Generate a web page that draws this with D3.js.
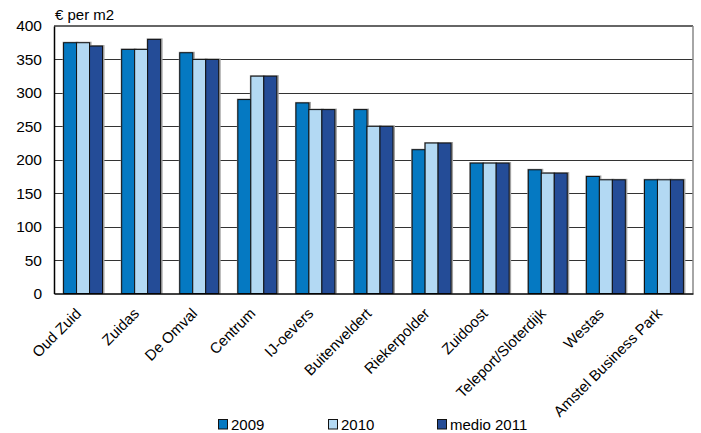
<!DOCTYPE html>
<html>
<head>
<meta charset="utf-8">
<script src="https://cdn.jsdelivr.net/npm/d3@7"></script>
<style>
body { margin: 0; background: #fff; }
text { font-family: "Liberation Sans", Arial, sans-serif; fill: #000; }
</style>
</head>
<body>
<div id="container"></div>
<script>
var categories = ["Oud Zuid", "Zuidas", "De Omval", "Centrum", "IJ-oevers", "Buitenveldert",
	"Riekerpolder", "Zuidoost", "Teleport/Sloterdijk", "Westas", "Amstel Business Park"];
var seriesNames = ["2009", "2010", "medio 2011"];
var v2009 = [375, 365, 360, 290, 285, 275, 215, 195, 185, 175, 170];
var v2010 = [375, 365, 350, 325, 275, 250, 225, 195, 180, 170, 170];
var v2011 = [370, 380, 350, 325, 275, 250, 225, 195, 180, 170, 170];
var yTicks = [0, 50, 100, 150, 200, 250, 300, 350, 400];
var colors = ["#0579c2", "#b3d9f3", "#244c97"];

var w = 701, h = 433,
	plotLeft = 54, plotRight = 693, plotTop = 26, plotBottom = 293.5;

var svg = d3.select("#container").append("svg")
	.attr("width", w)
	.attr("height", h);

var x = d3.scaleBand().domain(categories).range([plotLeft, plotRight]).paddingInner(0.33).paddingOuter(0.165);
var x1 = d3.scaleBand().domain(seriesNames).range([0, x.bandwidth()]);
var y = d3.scaleLinear().domain([0, 400]).range([plotBottom, plotTop]);

// gridlines
svg.append("g").selectAll("line")
	.data(yTicks.filter(function(d) { return d > 0 && d < 400; }))
	.enter().append("line")
	.attr("x1", plotLeft).attr("x2", plotRight)
	.attr("y1", function(d) { return Math.round(y(d)) + 0.5; })
	.attr("y2", function(d) { return Math.round(y(d)) + 0.5; })
	.attr("stroke", "#333").attr("stroke-width", 1);

// frame: top dark, right gray
svg.append("line").attr("x1", plotLeft).attr("x2", plotRight).attr("y1", y(400)).attr("y2", y(400))
	.attr("stroke", "#333").attr("stroke-width", 1.5);
svg.append("line").attr("x1", plotRight).attr("x2", plotRight).attr("y1", y(400)).attr("y2", y(0))
	.attr("stroke", "#888").attr("stroke-width", 1.5);

var data = [];
categories.forEach(function(c, i) {
	[v2009, v2010, v2011].forEach(function(arr, j) {
		data.push({cat: c, s: seriesNames[j], v: arr[i], k: j});
	});
});

var bars = svg.append("g");
// shadow
bars.selectAll("rect.sh").data(data).enter().append("rect")
	.attr("class", "sh")
	.attr("x", function(d) { return x(d.cat) + x1(d.s) - 1; })
	.attr("y", function(d) { return y(d.v) - 1; })
	.attr("width", x1.bandwidth() + 3)
	.attr("height", function(d) { return y(0) - y(d.v) + 1; })
	.attr("fill", "#a0a0a0");
bars.selectAll("rect.bar").data(data).enter().append("rect")
	.attr("class", "bar")
	.attr("x", function(d) { return x(d.cat) + x1(d.s); })
	.attr("y", function(d) { return y(d.v); })
	.attr("width", x1.bandwidth())
	.attr("height", function(d) { return y(0) - y(d.v); })
	.attr("fill", function(d) { return colors[d.k]; })
	.attr("stroke", "#111").attr("stroke-width", 1);

// y axis
var yAxis = svg.append("g").attr("transform", "translate(" + plotLeft + ",0)")
	.call(d3.axisLeft(y).tickValues(yTicks).tickSize(0).tickPadding(12));
yAxis.select(".domain").attr("stroke", "#000").attr("stroke-width", 1.5);
yAxis.selectAll("text").attr("font-size", 15.5).attr("font-family", "Liberation Sans, Arial, sans-serif").attr("fill", "#000");

// x axis
var xAxis = svg.append("g").attr("transform", "translate(0," + plotBottom + ")")
	.call(d3.axisBottom(x).tickSize(0).tickPadding(0));
xAxis.select(".domain").attr("stroke", "#000").attr("stroke-width", 1.5);
xAxis.selectAll("text")
	.attr("font-size", 15)
	.attr("font-family", "Liberation Sans, Arial, sans-serif")
	.attr("fill", "#000")
	.attr("text-anchor", "end")
	.attr("dy", 0)
	.attr("transform", "translate(-1,21) rotate(-45)");

// unit label
svg.append("text").attr("x", 55).attr("y", 19.5).attr("font-size", 15).text("€ per m2");

// legend
var legX = [218, 328, 437];
var leg = svg.append("g").selectAll("g").data(seriesNames).enter().append("g")
	.attr("transform", function(d, i) { return "translate(" + legX[i] + ",419.5)"; });
leg.append("rect").attr("x", 0.5).attr("y", 0).attr("width", 9).attr("height", 9.5)
	.attr("fill", function(d, i) { return colors[i]; })
	.attr("stroke", "#111").attr("stroke-width", 1);
leg.append("text").attr("x", 13).attr("y", 10).attr("font-size", 15).text(function(d) { return d; });
</script>
</body>
</html>
